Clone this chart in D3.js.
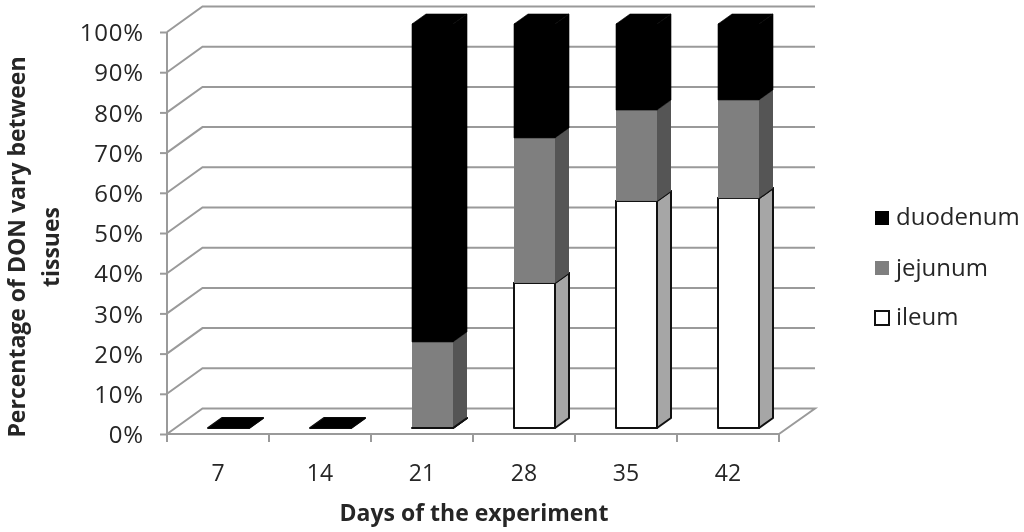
<!DOCTYPE html>
<html><head><meta charset="utf-8">
<script src="https://cdn.jsdelivr.net/npm/d3@7/dist/d3.min.js"></script>
<style>html,body{margin:0;padding:0;background:#fff}svg{display:block;filter:blur(0.45px)}text{font-family:"Open Sans",sans-serif;fill:#262626}</style>
</head><body><svg id="c" width="1024" height="532"></svg>
<script>
const days = ["7","14","21","28","35","42"];
const ileum = [0,0,0,35.9,56.2,56.9];
const jejunum = [0,0,21.3,35.9,22.5,24.3];
const duodenum = [0,0,78.7,28.2,21.3,18.8];
const seriesNames = ["ileum","jejunum","duodenum"];
const yTicks = [0,10,20,30,40,50,60,70,80,90,100];

const svg = d3.select("#c");
const x = d3.scaleBand().domain(days).range([167,779]);
const y = d3.scaleLinear().domain([0,100]).range([434,32]);
const yBar = d3.scaleLinear().domain([0,100]).range([428,24]);
const wall = {dx:35.5,dy:25.5};
const depth = {dx:14,dy:10};
const barW = 41;
const barOff = 41;
const gridC = "#9a9a9a";
const faces = {
  ileum:{front:"#fff",side:"#a6a6a6",top:"#fff",stroke:"#111",sw:2},
  jejunum:{front:"#7f7f7f",side:"#555",top:"#7f7f7f",stroke:"none",sw:0},
  duodenum:{front:"#000",side:"#000",top:"#000",stroke:"#000",sw:0.6}
};

// walls
const g = svg.append("g").attr("fill","none").attr("stroke",gridC).attr("stroke-width",2);
yTicks.forEach(t=>{
  if(t===0) return;
  g.append("polyline").attr("points",[[167,y(t)],[167+wall.dx,y(t)-wall.dy],[815,y(t)-wall.dy]].join(" "));
});
g.append("polyline").attr("points",[[167,y(0)],[167+wall.dx,y(0)-wall.dy],[815,y(0)-wall.dy],[779,y(0)]].join(" "));

// axes
const gx = svg.append("g").attr("transform",`translate(0,${y(0)})`).call(
  d3.axisBottom(x).tickSize(0).tickPadding(0));
gx.select(".domain").attr("stroke",gridC).attr("stroke-width",2).attr("d","M167,0H779");
gx.selectAll("text").attr("y",0).attr("dy",null)
  .attr("transform","translate(0,47)").style("font-size","23px").attr("font-size",null);
d3.range(7).forEach(i=>{
  const px = x.range()[0]+i*x.bandwidth();
  gx.append("line").attr("x1",px).attr("x2",px).attr("y1",0).attr("y2",8).attr("stroke",gridC).attr("stroke-width",2);
});
const gy = svg.append("g").attr("transform","translate(167,0)").call(
  d3.axisLeft(y).tickValues(yTicks).tickFormat(d=>d+"%").tickSize(7).tickPadding(5));
gy.select(".domain").attr("stroke",gridC).attr("stroke-width",2).attr("d",`M0,${y(0)}V${y(100)}`);
gy.selectAll("line").attr("stroke",gridC).attr("stroke-width",2);
gy.selectAll("text").style("font-size","24px").style("letter-spacing","0.8px").attr("x",-23).attr("dy","0.36em");

// stacked bars
const rows = days.map((d,i)=>({day:d,ileum:ileum[i],jejunum:jejunum[i],duodenum:duodenum[i]}));
const stacked = d3.stack().keys(seriesNames)(rows);
stacked.forEach(s=>{
  const f = faces[s.key];
  const sg = svg.append("g");
  s.forEach(p=>{
    const x0 = x(p.data.day)+barOff, x1 = x0+barW;
    const yb = yBar(p[0]), yt = yBar(p[1]);
    const attrs = el=>el.attr("stroke",f.stroke).attr("stroke-width",f.sw).attr("stroke-linejoin","round");
    attrs(sg.append("polygon")).attr("fill",f.side)
      .attr("points",[[x1,yb],[x1+depth.dx,yb-depth.dy],[x1+depth.dx,yt-depth.dy],[x1,yt]].join(" "));
    attrs(sg.append("polygon")).attr("fill",f.top)
      .attr("points",[[x0,yt],[x0+depth.dx,yt-depth.dy],[x1+depth.dx,yt-depth.dy],[x1,yt]].join(" "));
    attrs(sg.append("rect")).attr("fill",f.front)
      .attr("x",x0).attr("y",yt).attr("width",barW).attr("height",yb-yt);
  });
});
// zero-height ileum outline stays visible at the foot of a bar
svg.append("g").selectAll("polyline").data(rows.filter(r=>r.ileum===0 && r.jejunum>0)).join("polyline")
  .attr("fill","none").attr("stroke","#111").attr("stroke-width",2)
  .attr("points",r=>{
    const x0=x(r.day)+barOff,x1=x0+barW,yb=yBar(0);
    return [[x0,yb],[x1,yb],[x1+depth.dx,yb-depth.dy]].join(" ");
  });

// legend
const legendRows = [
  {key:"duodenum",cy:218,base:225,fill:"#000",stroke:"none"},
  {key:"jejunum",cy:268,base:276,fill:"#7f7f7f",stroke:"none"},
  {key:"ileum",cy:318,base:325,fill:"#fff",stroke:"#111"}
];
const lg = svg.append("g");
legendRows.forEach(r=>{
  lg.append("rect").attr("x",875).attr("y",r.cy-7).attr("width",14).attr("height",14)
    .attr("fill",r.fill).attr("stroke",r.stroke).attr("stroke-width",2);
  lg.append("text").attr("x",896).attr("y",r.base).style("font-size","24px").text(r.key);
});

// titles
svg.append("text").attr("x",474).attr("y",521).attr("text-anchor","middle")
  .style("font-size","23px").style("font-weight","700").text("Days of the experiment");
const yt = svg.append("text").attr("transform","translate(25,247) rotate(-90)").attr("text-anchor","middle")
  .style("font-size","23px").style("font-weight","700");
yt.append("tspan").attr("x",0).attr("y",0).text("Percentage of DON vary between");
yt.append("tspan").attr("x",0).attr("y",34).text("tissues");
</script></body></html>
